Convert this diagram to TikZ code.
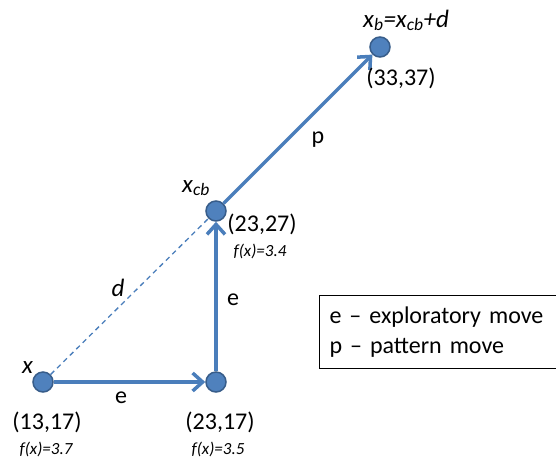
\documentclass[tikz,border=0pt]{standalone}
\usepackage{fontspec}
\setmainfont{Carlito}
\usetikzlibrary{arrows.meta}
\definecolor{nodefill}{HTML}{4F81BD}
\definecolor{nodeedge}{HTML}{385D8A}
\definecolor{stroke}{HTML}{4A7EBB}
\tikzset{
  ptnode/.style={circle, fill=nodefill, draw=nodeedge, line width=1.5pt, minimum size=20pt, inner sep=0pt},
  movearrow/.style={-{Straight Barb[length=10pt, width=18pt]}, draw=stroke, line width=3.5pt},
  dline/.style={draw=stroke, line width=1.3pt, dash pattern=on 5pt off 4pt},
  lbl/.style={font=\fontsize{24}{28}\selectfont, inner sep=0pt},
  sym/.style={font=\fontsize{25}{28}\selectfont\itshape, inner sep=0pt},
  fval/.style={font=\fontsize{17}{19}\selectfont\itshape, inner sep=0pt},
  keybox/.style={draw=black, line width=1pt, align=left, text width=230pt, inner xsep=10pt,
    minimum height=73pt, font=\fontsize{24}{30}\selectfont},
}

\begin{document}
\begin{tikzpicture}[x=1pt, y=-1pt]
\useasboundingbox (0,0) rectangle (556,459);
\clip (0,0) rectangle (556,459);
% points
\node[ptnode] (x0) at (43,382) {};
\node[ptnode] (x1) at (216,382) {};
\node[ptnode] (xcb) at (216,211) {};
\node[ptnode] (xb) at (380,47) {};
% moves
\draw[dline] (x0) -- (xcb);
\draw[movearrow] (x0) -- (x1);
\draw[movearrow] (x1) -- (xcb);
\draw[movearrow] (xcb) -- (xb);
% move labels
\node[lbl] (e1) at (121,398) {e};
\node[lbl] (e2) at (233,300) {e};
\node[lbl] (p1) at (318,140) {p};
\node[sym] (d1) at (118,288) {d};
% point labels
\node[sym, anchor=base west] (x0name) at (22,373) {x};
\node[sym, anchor=base west] (xcbname) at (182,192) {x\textsubscript{cb}};
\node[sym, anchor=base west] (xbname) at (363,27) {x\textsubscript{b}=x\textsubscript{cb}+d};
\node[lbl] (x0pos) at (47,422) {(13,17)};
\node[lbl] (x1pos) at (220,422) {(23,17)};
\node[lbl] (xcbpos) at (262,224) {(23,27)};
\node[lbl] (xbpos) at (401,78) {(33,37)};
\node[fval] (x0f) at (46,449) {f(x)=3.7};
\node[fval] (x1f) at (218,449) {f(x)=3.5};
\node[fval] (xcbf) at (260,251) {f(x)=3.4};
% key
\node[keybox, anchor=north west] (key) at (319,295) {e -- exploratory move\\p -- pattern move};
\end{tikzpicture}
\end{document}
